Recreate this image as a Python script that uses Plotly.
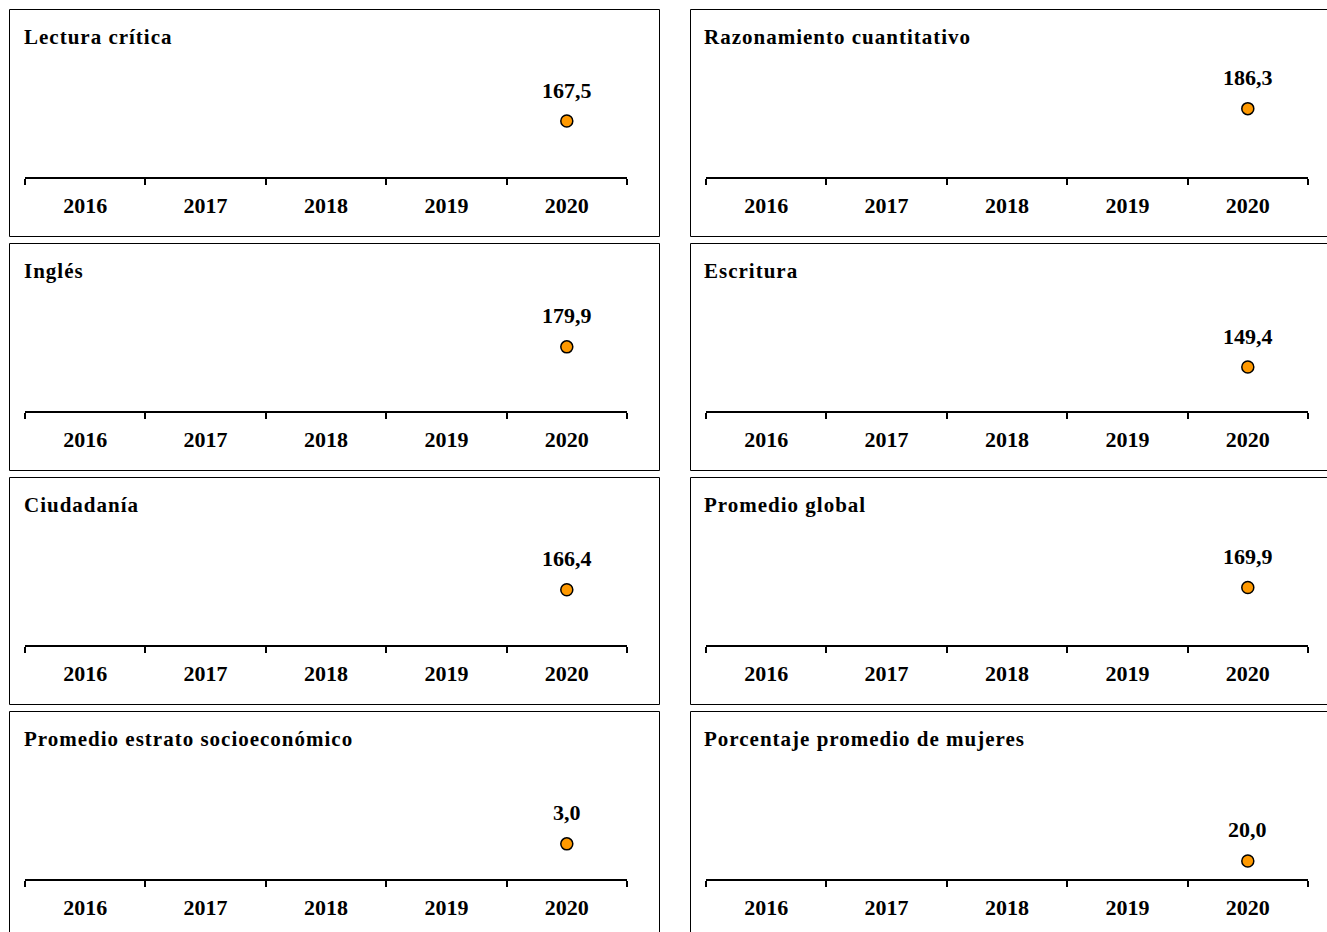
import plotly.graph_objects as go

W, H = 1327, 932

years = ["2016", "2017", "2018", "2019", "2020"]
titles = [
    "Lectura crítica", "Razonamiento cuantitativo",
    "Inglés", "Escritura",
    "Ciudadanía", "Promedio global",
    "Promedio estrato socioeconómico", "Porcentaje promedio de mujeres",
]
lectura = [None, None, None, None, 167.5]
razonamiento = [None, None, None, None, 186.3]
ingles = [None, None, None, None, 179.9]
escritura = [None, None, None, None, 149.4]
ciudadania = [None, None, None, None, 166.4]
global_ = [None, None, None, None, 169.9]
estrato = [None, None, None, None, 3.0]
mujeres = [None, None, None, None, 20.0]
series = [lectura, razonamiento, ingles, escritura, ciudadania, global_, estrato, mujeres]
yranges = [[83, 290]] * 6 + [[0, 11.7], [0, 152]]

FONT = "Liberation Serif"

fig = go.Figure()


def px_x(p):
    return p / W


def px_y(p):
    return 1 - p / H


def fmt(v):
    return f"{v:.1f}".replace(".", ",")


shapes = []
annotations = []
for i, (vals, title) in enumerate(zip(series, titles)):
    r, c = divmod(i, 2)
    off = 234 * r
    x0 = 25 if c == 0 else 706
    x1 = 627 if c == 0 else 1308
    bx0 = 9.5 if c == 0 else 690.5
    bx1 = 659.5 if c == 0 else 1345
    by0 = 9.5 + off
    by1 = 236.5 + off if r < 3 else 950
    ax_bot = 177 + off
    ax_top = 40 + off
    n = i + 1
    xa = "x" if n == 1 else f"x{n}"
    ya = "y" if n == 1 else f"y{n}"
    fig.add_trace(go.Scatter(
        x=years, y=vals,
        mode="markers",
        marker=dict(size=12, color="#FF9900", line=dict(color="black", width=1.5)),
        xaxis=xa, yaxis=ya, showlegend=False, cliponaxis=False,
    ))
    for k, v in enumerate(vals):
        if v is None:
            continue
        annotations.append(dict(
            text=fmt(v), x=k, y=v, xref=xa, yref=ya, showarrow=False,
            xanchor="center", yanchor="middle", yshift=31,
            font=dict(family=FONT, size=22, color="black", weight="bold"),
        ))
    fig.layout[f"xaxis{'' if n == 1 else n}"] = dict(
        domain=[px_x(x0), px_x(x1)], anchor=ya, type="category",
        categoryorder="array", categoryarray=years,
        range=[-0.5, 4.5], tickson="boundaries", ticks="outside", ticklen=6,
        tickwidth=2, tickcolor="black", showline=True, linecolor="black",
        linewidth=2, showgrid=False, zeroline=False, fixedrange=True,
        ticklabelstandoff=8,
        tickfont=dict(family=FONT, size=22, color="black", weight="bold"),
    )
    fig.layout[f"yaxis{'' if n == 1 else n}"] = dict(
        domain=[px_y(ax_bot), px_y(ax_top)], anchor=xa, range=yranges[i],
        visible=False, showgrid=False, zeroline=False, fixedrange=True,
    )
    shapes.append(dict(type="rect", xref="paper", yref="paper",
                       x0=px_x(bx0), x1=px_x(bx1), y0=px_y(by1), y1=px_y(by0),
                       line=dict(color="black", width=1), fillcolor="rgba(0,0,0,0)"))
    annotations.append(dict(
        text=f"<span style='letter-spacing:1px'>{title}</span>",
        xref="paper", yref="paper",
        x=px_x(22 if c == 0 else 702), y=px_y(37 + off), xanchor="left",
        yanchor="middle", showarrow=False,
        font=dict(family=FONT, size=21, color="black", weight="bold")))

fig.update_layout(
    width=W, height=H, margin=dict(l=0, r=0, t=0, b=0),
    paper_bgcolor="white", plot_bgcolor="white",
    shapes=shapes, annotations=annotations,
    font=dict(family=FONT, color="black"),
)
fig.write_html("out.html", config={"displayModeBar": False},
               post_script="document.body.style.margin='0';")
